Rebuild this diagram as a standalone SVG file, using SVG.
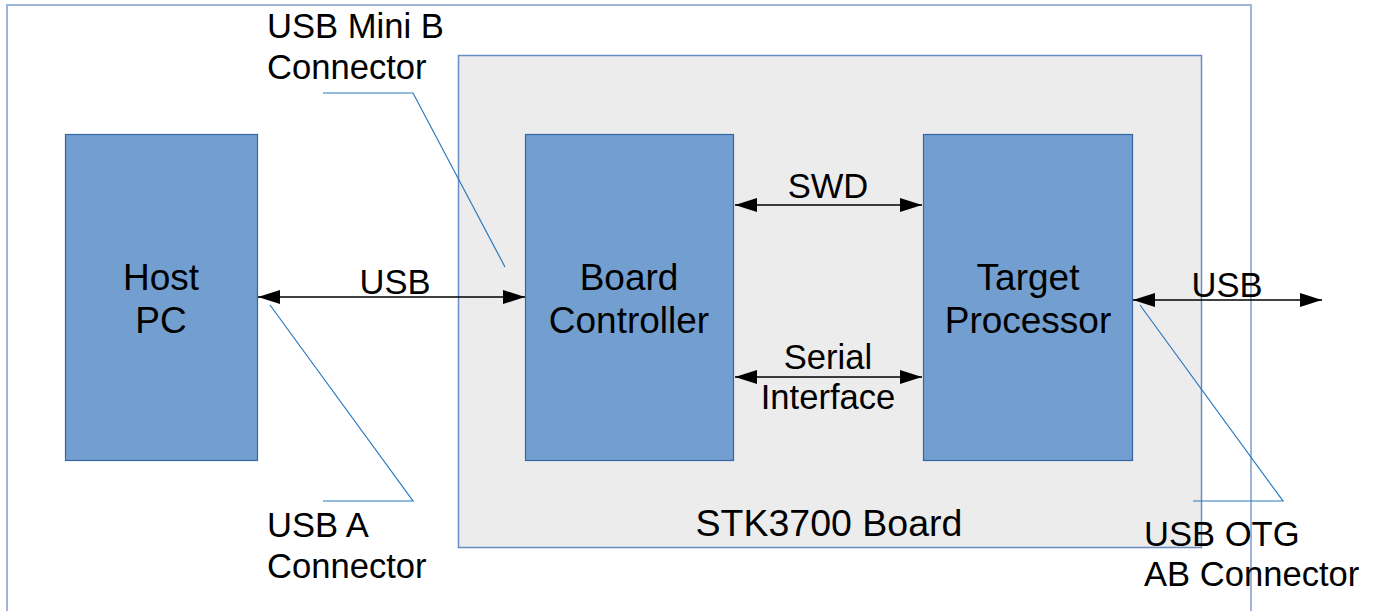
<svg xmlns="http://www.w3.org/2000/svg" width="1377" height="611" viewBox="0 0 1377 611">
<defs>
<marker id="ah" viewBox="0 0 22 14" refX="22" refY="7" markerWidth="22" markerHeight="14" markerUnits="userSpaceOnUse" orient="auto-start-reverse">
<path d="M0,0 L22,7 L0,14 Z" fill="#000"/>
</marker>
<style>
.t{font-family:"Liberation Sans",Arial,sans-serif;fill:#000}
.lbl{font-size:34.6px}
.nt{font-size:37px;text-anchor:middle}
.node{fill:#729fcf;stroke:#3465a4;stroke-width:1.2}
.arr{stroke:#000;stroke-width:1.5;fill:none}
.lead{stroke:#2a7ac0;stroke-width:1.2;fill:none}
</style>
</defs>
<rect width="1377" height="611" fill="#fff"/>
<g id="frame"><rect x="7" y="5" width="1244" height="640" fill="none" stroke="#9db5d8" stroke-width="2"/></g>
<g id="board">
<rect x="458.5" y="55.5" width="743" height="492" fill="#ececec" stroke="#6a8cc2" stroke-width="1.5"/>
<text class="t nt" x="829" y="536" style="font-size:37.5px">STK3700 Board</text>
</g>
<g id="hostpc">
<rect class="node" x="65.5" y="134.5" width="192" height="326"/>
<text class="t nt" x="161" y="290">Host</text>
<text class="t nt" x="161" y="333">PC</text>
</g>
<g id="boardcontroller">
<rect class="node" x="525.5" y="134.5" width="208" height="326"/>
<text class="t nt" x="629" y="290">Board</text>
<text class="t nt" x="629" y="333">Controller</text>
</g>
<g id="targetprocessor">
<rect class="node" x="923.5" y="134.5" width="209" height="326"/>
<text class="t nt" x="1028" y="290">Target</text>
<text class="t nt" x="1028" y="333">Processor</text>
</g>
<g id="connectors">
<line class="arr" x1="258" y1="297" x2="525" y2="297" marker-start="url(#ah)" marker-end="url(#ah)"/>
<line class="arr" x1="735" y1="205" x2="922" y2="205" marker-start="url(#ah)" marker-end="url(#ah)"/>
<line class="arr" x1="735" y1="377" x2="922" y2="377" marker-start="url(#ah)" marker-end="url(#ah)"/>
<line class="arr" x1="1133" y1="300" x2="1322" y2="300" marker-start="url(#ah)" marker-end="url(#ah)"/>
<polyline class="lead" points="323,93 413,93 505,267"/>
<polyline class="lead" points="270,305 413,501 323,501"/>
<polyline class="lead" points="1140,305 1283,501 1193,501"/>
</g>
<g id="labels">
<text class="t lbl" x="395" y="294" text-anchor="middle">USB</text>
<text class="t lbl" x="828" y="198" text-anchor="middle">SWD</text>
<text class="t lbl" x="828" y="369" text-anchor="middle">Serial</text>
<text class="t lbl" x="828" y="409" text-anchor="middle">Interface</text>
<text class="t lbl" x="1227" y="297" text-anchor="middle">USB</text>
<text class="t lbl" x="267" y="38">USB Mini B</text>
<text class="t lbl" x="267" y="79">Connector</text>
<text class="t lbl" x="267" y="537">USB A</text>
<text class="t lbl" x="267" y="578">Connector</text>
<text class="t lbl" x="1144" y="546">USB OTG</text>
<text class="t lbl" x="1144" y="586">AB Connector</text>
</g>
</svg>
